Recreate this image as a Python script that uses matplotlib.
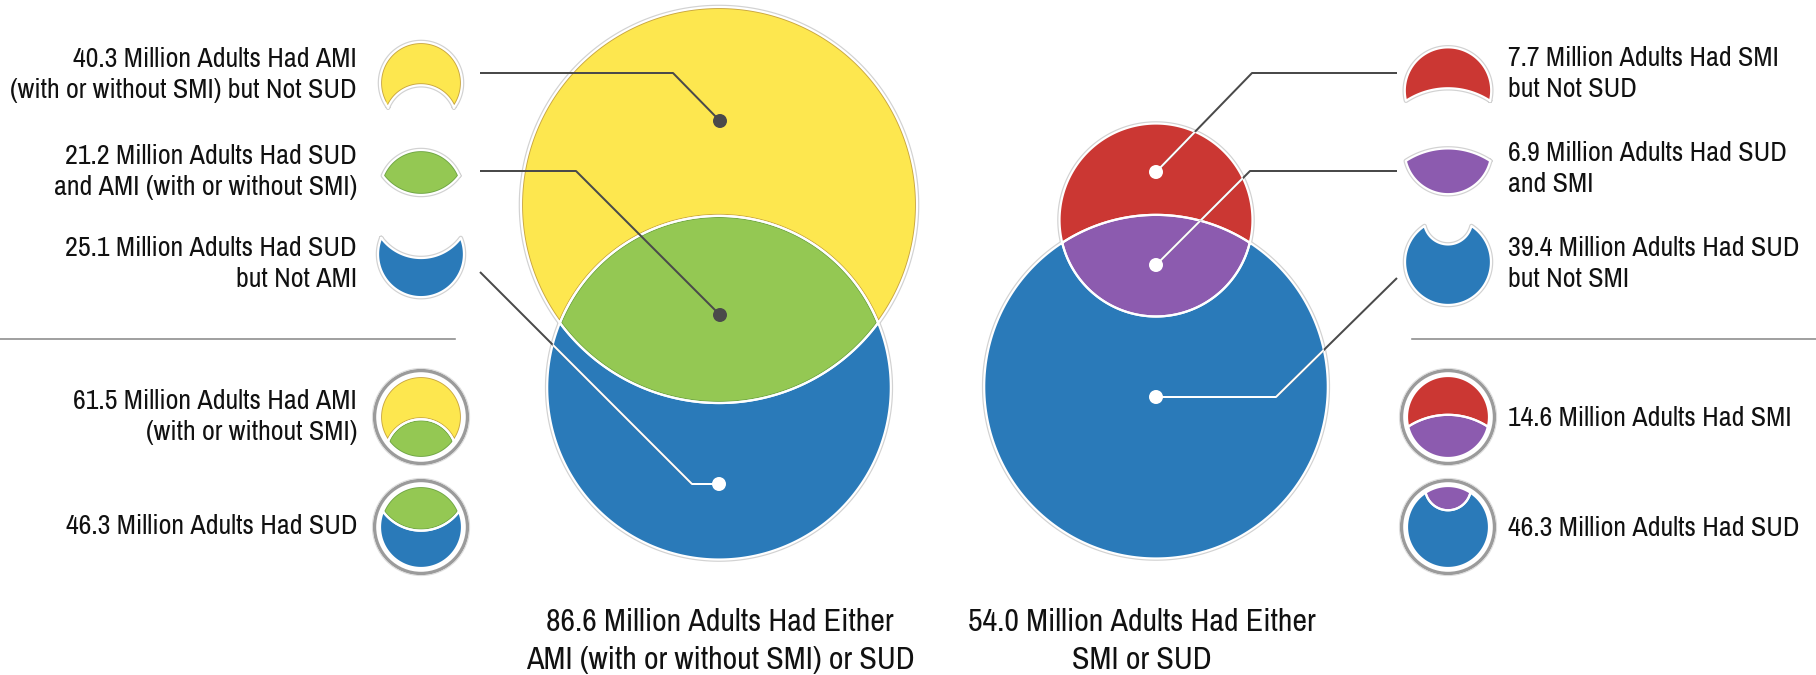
import numpy as np
import matplotlib.pyplot as plt
from matplotlib.patches import Polygon, Circle
from matplotlib import font_manager as fm

# adults, in millions
ami_only = 40.3
sud_and_ami = 21.2
sud_not_ami = 25.1
ami_total = 61.5
sud_total = 46.3
ami_or_sud = 86.6

smi_not_sud = 7.7
sud_and_smi = 6.9
sud_not_smi = 39.4
smi_total = 14.6
smi_or_sud = 54.0

left_labels = [
    f'{ami_only} Million Adults Had AMI\n(with or without SMI) but Not SUD',
    f'{sud_and_ami} Million Adults Had SUD\nand AMI (with or without SMI)',
    f'{sud_not_ami} Million Adults Had SUD\nbut Not AMI',
    f'{ami_total} Million Adults Had AMI\n(with or without SMI)',
    f'{sud_total} Million Adults Had SUD',
]
right_labels = [
    f'{smi_not_sud} Million Adults Had SMI\nbut Not SUD',
    f'{sud_and_smi} Million Adults Had SUD\nand SMI',
    f'{sud_not_smi} Million Adults Had SUD\nbut Not SMI',
    f'{smi_total} Million Adults Had SMI',
    f'{sud_total} Million Adults Had SUD',
]
titles = [
    f'{ami_or_sud} Million Adults Had Either\nAMI (with or without SMI) or SUD',
    f'{smi_or_sud:.1f} Million Adults Had Either\nSMI or SUD',
]

YELLOW, GREEN, BLUE = '#FDE74F', '#94C853', '#2A7AB9'
RED, PURPLE = '#CB3733', '#8C5BAF'
LINE = '#4a4a4a'
TEXT = '#111111'

K = 25.25  # px per sqrt(million), circle area ~ count
PX = 0.72  # points per pixel at 100 dpi

# prefer a narrow face if one is installed
narrow = sorted({f.name for f in fm.fontManager.ttflist
                 if 'Narrow' in f.name or 'Condensed' in f.name})
cond_stretch = sorted({f.name for f in fm.fontManager.ttflist
                       if str(f.stretch) in ('condensed', 'semi-condensed', 'extra-condensed')})
if narrow:
    font = fm.FontProperties(family=[narrow[0], 'DejaVu Sans'], weight='bold')
elif cond_stretch:
    font = fm.FontProperties(family=[cond_stretch[0], 'DejaVu Sans'],
                             stretch='condensed', weight='medium')
else:
    font = fm.FontProperties(family=['Roboto', 'DejaVu Sans'], weight='medium')


def lens_area(r1, r2, d):
    c1 = np.clip((d*d + r1*r1 - r2*r2) / (2*d*r1), -1, 1)
    c2 = np.clip((d*d + r2*r2 - r1*r1) / (2*d*r2), -1, 1)
    t = (-d + r1 + r2) * (d + r1 - r2) * (d - r1 + r2) * (d + r1 + r2)
    return r1*r1*np.arccos(c1) + r2*r2*np.arccos(c2) - 0.5*np.sqrt(max(t, 0))


def centre_gap(r1, r2, area):
    lo, hi = abs(r1 - r2) + 1e-6, r1 + r2
    for _ in range(80):
        mid = 0.5 * (lo + hi)
        if lens_area(r1, r2, mid) > area:
            lo = mid
        else:
            hi = mid
    return 0.5 * (lo + hi)


def arc(cx, cy, r, a0, a1, n=240):
    t = np.linspace(a0, a1, n)
    return np.column_stack([cx + r*np.cos(t), cy + r*np.sin(t)])


def venn_regions(cx, y1, r1, y2, r2):
    # circle 1 on top, circle 2 below; y grows downward
    d = y2 - y1
    a = (d*d + r1*r1 - r2*r2) / (2*d)
    h = np.sqrt(r1*r1 - a*a)
    t1 = np.arctan2(a, h)
    t2 = np.arctan2(a - d, h)
    top = np.vstack([arc(cx, y1, r1, np.pi - t1, t1 + 2*np.pi),
                     arc(cx, y2, r2, t2 + 2*np.pi, np.pi - t2)])
    both = np.vstack([arc(cx, y1, r1, t1, np.pi - t1),
                      arc(cx, y2, r2, np.pi - t2, t2 + 2*np.pi)])
    bottom = np.vstack([arc(cx, y2, r2, t2, np.pi - t2),
                        arc(cx, y1, r1, np.pi - t1, t1)])
    return top, both, bottom


def draw_region(ax, pts, color, tint=None, halo=True):
    if halo:
        ax.add_patch(Polygon(pts, closed=True, fill=False, ec='#d2d2d2',
                             lw=4.6*PX, joinstyle='round', zorder=1))
    body = Polygon(pts, closed=True, fc=color, ec=tint or color,
                   lw=4*PX, zorder=2)
    ax.add_patch(body)
    body.set_clip_path(body)
    ax.add_patch(Polygon(pts, closed=True, fill=False, ec='white',
                         lw=2.2*PX, joinstyle='round', zorder=3))
    return body


def place(pts, anchor, at, s):
    return np.asarray(at) + s * (pts - np.asarray(anchor))


def leader(ax, xs, ys, dot_dark, white_clips=()):
    ax.plot(xs, ys, color=LINE, lw=2*PX, zorder=5, solid_capstyle='butt')
    for clip in white_clips:
        ln, = ax.plot(xs, ys, color='white', lw=2*PX, zorder=6)
        ln.set_clip_path(clip)
    ax.add_patch(Circle((xs[-1], ys[-1]), 7, fc=LINE if dot_dark else 'white',
                        ec='none', zorder=7))


fig = plt.figure(figsize=(18.16, 6.75), dpi=100)
ax = fig.add_axes([0, 0, 1, 1])
ax.set_xlim(0, 1816)
ax.set_ylim(675, 0)
ax.set_aspect('equal')
ax.axis('off')
renderer = fig.canvas.get_renderer()


def fitted_size(text, width_px):
    t = fig.text(0, 0, text, fontproperties=font, fontsize=20)
    w = t.get_window_extent(renderer).width
    t.remove()
    return 20 * width_px / w


label_size = fitted_size(left_labels[0].split('\n')[0], 285)
title_size = fitted_size(titles[0].split('\n')[0], 349)

# left diagram: AMI (top) and SUD (bottom)
lx = 719
rA, rS = K*np.sqrt(ami_total), K*np.sqrt(sud_total)
yA = 205
yS = yA + centre_gap(rA, rS, np.pi*K*K*sud_and_ami)
l_top, l_both, l_bot = venn_regions(lx, yA, rA, yS, rS)
draw_region(ax, l_top, YELLOW, '#C9A640')
draw_region(ax, l_both, GREEN, '#6FA544')
l_blue = draw_region(ax, l_bot, BLUE)

# right diagram: SMI (top) and SUD (bottom)
rx = 1156
rM = K*np.sqrt(smi_total)
yM = 220
yU = yM + centre_gap(rM, rS, np.pi*K*K*sud_and_smi)
r_top, r_both, r_bot = venn_regions(rx, yM, rM, yU, rS)
r_red = draw_region(ax, r_top, RED)
r_pur = draw_region(ax, r_both, PURPLE)
r_blue = draw_region(ax, r_bot, BLUE)

# small region icons
ix_l, ix_r = 421, 1448
draw_region(ax, place(l_top, (lx, yA), (ix_l, 83), 0.207), YELLOW, '#C9A640')
draw_region(ax, place(l_both, (lx, 309.5), (ix_l, 172.5), 0.24), GREEN, '#6FA544')
draw_region(ax, place(l_bot, (lx, 443), (ix_l, 268), 0.25), BLUE)

draw_region(ax, place(r_top, (rx, 183), (ix_r, 74), 0.448), RED)
draw_region(ax, place(r_both, (rx, 265), (ix_r, 171), 0.45), PURPLE)
draw_region(ax, place(r_bot, (rx, yU), (ix_r, 262), 0.25), BLUE)

# ringed totals
sA, sS, sM = 41/rA, 41/rS, 41/rM
for pts, col, tint in [(l_top, YELLOW, '#C9A640'), (l_both, GREEN, '#6FA544')]:
    draw_region(ax, place(pts, (lx, yA), (ix_l, 417), sA), col, tint, halo=False)
for pts, col, tint in [(l_both, GREEN, '#6FA544'), (l_bot, BLUE, None)]:
    draw_region(ax, place(pts, (lx, yS), (ix_l, 527), sS), col, tint, halo=False)
for pts, col in [(r_top, RED), (r_both, PURPLE)]:
    draw_region(ax, place(pts, (rx, yM), (ix_r, 417), sM), col, halo=False)
for pts, col in [(r_both, PURPLE), (r_bot, BLUE)]:
    draw_region(ax, place(pts, (rx, yU), (ix_r, 527), sS), col, halo=False)
for x in (ix_l, ix_r):
    for y in (417, 527):
        ax.add_patch(Circle((x, y), 46.5, fill=False, ec='#9b9b9b', lw=3.4*PX, zorder=2))
        ax.add_patch(Circle((x, y), 48.6, fill=False, ec='#dddddd', lw=1*PX, zorder=2))

# leader lines
leader(ax, [480, 673, 720], [73, 73, 121], True)
leader(ax, [480, 576, 720], [171, 171, 315], True)
leader(ax, [480, 692, 719], [272, 484, 484], False, [l_blue])
leader(ax, [1397, 1252, 1156], [73, 73, 172], False, [r_red])
leader(ax, [1397, 1250, 1156], [171, 171, 265], False, [r_red, r_pur])
leader(ax, [1397, 1276, 1156], [278, 397, 397], False, [r_blue])

# dividers
ax.plot([0, 455], [339, 339], color='#8a8a8a', lw=1.6*PX, zorder=1)
ax.plot([1412, 1816], [339, 339], color='#8a8a8a', lw=1.6*PX, zorder=1)

for txt, y in zip(left_labels, [75, 172, 264, 417, 527]):
    ax.text(357, y, txt, ha='right', va='center', fontproperties=font,
            fontsize=label_size, color=TEXT, linespacing=1.32)
for txt, y in zip(right_labels, [74, 169, 264, 418, 528]):
    ax.text(1508, y, txt, ha='left', va='center', fontproperties=font,
            fontsize=label_size, color=TEXT, linespacing=1.32)
for txt, x in zip(titles, [720, 1142]):
    ax.text(x, 641, txt, ha='center', va='center', fontproperties=font,
            fontsize=title_size, color=TEXT, linespacing=1.42)

fig.savefig('out.png', dpi=100, facecolor='white')
